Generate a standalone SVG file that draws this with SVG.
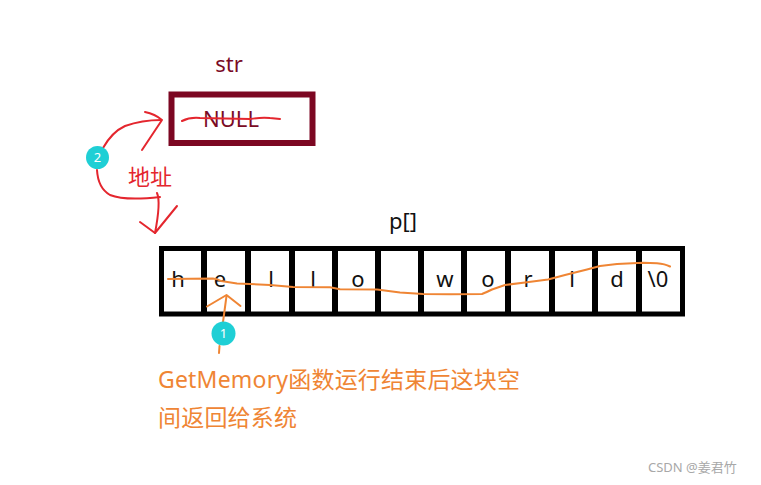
<svg xmlns="http://www.w3.org/2000/svg" width="761" height="485" viewBox="0 0 761 485">
<style>
.t{font-family:"Noto Sans","Noto Sans CJK SC",sans-serif;}
.cell{font-family:"Noto Sans",sans-serif;font-size:22px;fill:#111;text-anchor:middle;}
.red{fill:none;stroke:#e4262e;stroke-width:2;stroke-linecap:round;stroke-linejoin:round;}
.org{fill:none;stroke:#ef8534;stroke-width:2;stroke-linecap:round;stroke-linejoin:round;}
.badge{fill:#1fcfd5;}
.bt{font-family:"Noto Sans",sans-serif;font-size:13px;fill:#fff;text-anchor:middle;}
</style>
<rect width="761" height="485" fill="#fff"/>
<g id="str">
<text class="t" x="229" y="72" font-size="22" fill="#7a0b25" text-anchor="middle">str</text>
<rect x="171.5" y="94.5" width="141" height="48.5" fill="none" stroke="#7c0722" stroke-width="6"/>
<text class="t" x="231" y="127" font-size="22" fill="#7a0b25" text-anchor="middle">NULL</text>
<path class="red" d="M182 121 Q190 117 200 118 L250 119 Q262 117 270 118 L280 119" stroke-width="1.8"/>
</g>
<g id="array">
<text class="t" x="403" y="229" font-size="22" fill="#111" text-anchor="middle">p[]</text>
<rect x="161.5" y="248.5" width="521" height="65.5" fill="none" stroke="#000" stroke-width="5"/>
<g stroke="#000" stroke-width="6">
<line x1="204" y1="248" x2="204" y2="314"/>
<line x1="248" y1="248" x2="248" y2="314"/>
<line x1="292" y1="248" x2="292" y2="314"/>
<line x1="335" y1="248" x2="335" y2="314"/>
<line x1="378" y1="248" x2="378" y2="314"/>
<line x1="421" y1="248" x2="421" y2="314"/>
<line x1="464" y1="248" x2="464" y2="314"/>
<line x1="508" y1="248" x2="508" y2="314"/>
<line x1="552" y1="248" x2="552" y2="314"/>
<line x1="595" y1="248" x2="595" y2="314"/>
<line x1="639" y1="248" x2="639" y2="314"/>
</g>
<text class="cell" x="178" y="287">h</text>
<text class="cell" x="220" y="287">e</text>
<text class="cell" x="271" y="287">l</text>
<text class="cell" x="313" y="287">l</text>
<text class="cell" x="358" y="287">o</text>
<text class="cell" x="445" y="287">w</text>
<text class="cell" x="488" y="287">o</text>
<text class="cell" x="528" y="287">r</text>
<text class="cell" x="572" y="287">l</text>
<text class="cell" x="617" y="287">d</text>
<text class="cell" x="658" y="287">\0</text>
</g>
<g id="connectors">
<path class="org" d="M168 279 L213 278.5 Q218 279 221 281 L237 283.5 L270 285 L293 287 L330 287.3 L340 289.3 L377 289.5 L400 292.5 L423 294 L450 294.3 L482 294 Q487 292 492 289.5 L505 285 L525 282.5 L548 279.5 L565 275 L587 269.5 L600 266 L617 264 L643 262.7 L657 263.3 Q665 264 670 266.5"/>
<path class="org" d="M207 306.5 L226.5 295 L240.5 306"/>
<path class="org" d="M226.5 296 L223 322"/>
<path class="org" d="M219.5 346 L219 353"/>
<path class="red" d="M103 148 Q112 132 125 126 Q142 120 161 120"/>
<path class="red" d="M145 112 Q155 114 162 120 L142 150"/>
<path class="red" d="M97 170 Q98 188 110 195 Q125 201 160 197"/>
<path class="red" d="M157 193 Q161 202 155 233 L177 206"/>
<path class="red" d="M140 222 L155 233"/>
</g>
<g id="badge2">
<circle class="badge" cx="97.5" cy="157.5" r="11.5"/>
<text class="bt" x="97.5" y="162">2</text>
</g>
<g id="label-addr">
<text class="t" x="128" y="185" font-size="22" fill="#e4262e">地址</text>
</g>
<g id="badge1">
<circle class="badge" cx="223.5" cy="333.5" r="12"/>
<text class="bt" x="223.5" y="338">1</text>
</g>
<g id="note">
<text class="t" font-size="23" fill="#ef8534"><tspan x="158" y="388" textLength="362" lengthAdjust="spacing">GetMemory函数运行结束后这块空</tspan><tspan x="158" y="426" textLength="139" lengthAdjust="spacing">间返回给系统</tspan></text>
</g>
<g id="watermark">
<text class="t" x="648" y="472" font-size="13" fill="#a8a8a8">CSDN @姜君竹</text>
</g>
</svg>
